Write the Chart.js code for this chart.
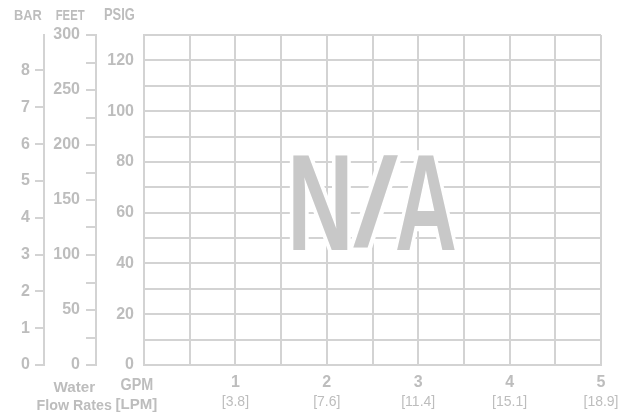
<!DOCTYPE html>
<html>
<head>
<meta charset="utf-8">
<script src="https://cdn.jsdelivr.net/npm/chart.js@4.4.1/dist/chart.umd.min.js"></script>
<style>
  html, body { margin: 0; padding: 0; background: #ffffff; }
  #wrap { width: 636px; height: 414px; }
</style>
</head>
<body>
<div id="wrap"><canvas id="c" width="636" height="414"></canvas></div>
<script>
// ---- data ----
const gpmLabels = ['1', '2', '3', '4', '5'];               // flow rate ticks, GPM
const lpmLabels = ['[3.8]', '[7.6]', '[11.4]', '[15.1]', '[18.9]']; // same ticks, LPM
const flowPoints = [];                                        // no curve: "N/A"
const psigRange = [0, 130];
const feetRange = [0, 300];
const barRange = [0, 130 / 14.5038];
const axisHeaders = ['BAR', 'FEET', 'PSIG'];
const noDataGlyphs = ['N', '/', 'A'];

// ---- styling ----
const TXT = '#bdbdbd';
const GRID = '#d3d3d3';
const FAM = '"Liberation Sans", Arial, sans-serif';

// draw text so that its ink box fills [x0,x1] x [y0,y1]
function fitText(ctx, text, font, x0, x1, y0, y1, mode, extra) {
  ctx.save();
  ctx.font = font;
  ctx.textAlign = 'left';
  ctx.textBaseline = 'alphabetic';
  const m = ctx.measureText(text);
  const bw = m.actualBoundingBoxLeft + m.actualBoundingBoxRight;
  const bh = m.actualBoundingBoxAscent + m.actualBoundingBoxDescent;
  ctx.translate(x0, y0);
  ctx.scale((x1 - x0) / bw, (y1 - y0) / bh);
  const ox = m.actualBoundingBoxLeft, oy = m.actualBoundingBoxAscent;
  if (mode === 'halo') {
    ctx.lineJoin = 'miter';
    ctx.strokeStyle = '#ffffff';
    ctx.lineWidth = extra;
    ctx.strokeText(text, ox, oy);
  } else {
    ctx.fillText(text, ox, oy);
  }
  ctx.restore();
}

// slanted glyph: bottom-left ink corner at (x0, yb), ink height h,
// horizontal stroke thickness ~t, total ink width w
function slantText(ctx, text, font, x0, yb, h, t, w, mode, extra) {
  ctx.save();
  ctx.font = font;
  ctx.textAlign = 'left';
  ctx.textBaseline = 'alphabetic';
  const m = ctx.measureText(text);
  const bw = m.actualBoundingBoxLeft + m.actualBoundingBoxRight;
  const bh = m.actualBoundingBoxAscent + m.actualBoundingBoxDescent;
  const nativeT = 0.46 * bw;
  const sx = t / nativeT, sy = h / bh;
  const k = (w - bw * sx) / h;
  ctx.translate(x0, yb);
  ctx.transform(1, 0, -k, 1, 0, 0);
  ctx.scale(sx, sy);
  const ox = m.actualBoundingBoxLeft, oy = -m.actualBoundingBoxDescent;
  if (mode === 'halo') {
    ctx.lineJoin = 'miter';
    ctx.strokeStyle = '#ffffff';
    ctx.lineWidth = extra;
    ctx.strokeText(text, ox, oy);
  } else {
    ctx.fillText(text, ox, oy);
  }
  ctx.restore();
}

const overlay = {
  id: 'overlay',
  afterDatasetsDraw(chart) {
    const ctx = chart.ctx;
    const big = 'bold 130px ' + FAM;
    const drawAll = (mode) => {
      fitText(ctx, noDataGlyphs[0], big, 293, 348, 155, 250, mode, 10);
      slantText(ctx, noDataGlyphs[1], big, 353, 247.5, 92.5, 14.5, 45, mode, 10);
      fitText(ctx, noDataGlyphs[2], big, 397, 455, 155, 250, mode, 10);
    };
    ctx.save();
    drawAll('halo');
    ctx.fillStyle = '#c8c8c8';
    drawAll('fill');
    ctx.restore();
  },
  afterDraw(chart) {
    const ctx = chart.ctx;
    ctx.save();
    ctx.fillStyle = TXT;
    const hf = 'bold 14px ' + FAM;
    fitText(ctx, axisHeaders[0], hf, 14, 41.7, 9.3, 20);
    fitText(ctx, axisHeaders[1], hf, 55.7, 85, 9.3, 20);
    fitText(ctx, axisHeaders[2], hf, 104, 135, 9.1, 20.3);
    const lf = 'bold 16px ' + FAM;
    fitText(ctx, 'Water', lf, 53.5, 95, 380, 391.5);
    fitText(ctx, 'GPM', lf, 120.5, 153, 378.5, 390.3);
    fitText(ctx, 'Flow Rates', lf, 37.5, 112, 398.3, 409.5);
    fitText(ctx, '[LPM]', lf, 115.5, 157, 397, 411.5);
    ctx.restore();
  }
};

const fixedSize = (w, h) => (scale) => {
  if (w !== null) scale.width = w;
  if (h !== null) scale.height = h;
};

new Chart(document.getElementById('c'), {
  type: 'scatter',
  data: {
    datasets: [{
      data: flowPoints,
      xAxisID: 'x',
      yAxisID: 'psig',
      showLine: true,
      borderColor: '#888',
      pointRadius: 0
    }]
  },
  options: {
    responsive: false,
    animation: false,
    devicePixelRatio: 1,
    layout: { padding: { left: 0, right: 35, top: 35, bottom: 0 } },
    plugins: { legend: { display: false }, tooltip: { enabled: false } },
    scales: {
      x: {
        type: 'linear', position: 'bottom', weight: 0,
        min: 0, max: 5,
        afterFit: fixedSize(null, 27),
        grid: { color: GRID, lineWidth: 2, drawTicks: false },
        border: { display: true, color: GRID, width: 2 },
        ticks: {
          stepSize: 0.5, autoSkip: false, maxRotation: 0, padding: 8,
          color: TXT, font: { family: FAM, size: 16, weight: 'bold' },
          callback: (v) => (Number.isInteger(v) && v > 0) ? gpmLabels[v - 1] : ''
        }
      },
      x2: {
        type: 'linear', position: 'bottom', weight: 1,
        min: 0, max: 5,
        afterFit: fixedSize(null, 22),
        grid: { display: false, drawTicks: false },
        border: { display: false },
        ticks: {
          stepSize: 0.5, autoSkip: false, maxRotation: 0, padding: 2,
          color: TXT, font: { family: FAM, size: 14, weight: 'normal' },
          callback: (v) => (Number.isInteger(v) && v > 0) ? lpmLabels[v - 1] : ''
        }
      },
      psig: {
        type: 'linear', position: 'left', weight: 0,
        min: psigRange[0], max: psigRange[1],
        afterFit: fixedSize(48, null),
        grid: { color: GRID, lineWidth: 2, drawTicks: false },
        border: { display: true, color: GRID, width: 2 },
        ticks: {
          stepSize: 10, autoSkip: false, padding: 10,
          color: TXT, font: { family: FAM, size: 16, weight: 'bold' },
          callback: (v) => (v % 20 === 0) ? String(v) : ''
        }
      },
      feet: {
        type: 'linear', position: 'left', weight: 1,
        min: feetRange[0], max: feetRange[1],
        afterFit: fixedSize(52, null),
        grid: { color: GRID, lineWidth: 2, drawOnChartArea: false, drawTicks: true, tickLength: 10 },
        border: { display: true, color: GRID, width: 2 },
        ticks: {
          stepSize: 25, autoSkip: false, padding: 6,
          color: TXT, font: { family: FAM, size: 16, weight: 'bold' },
          callback: (v) => (v % 50 === 0) ? String(v) : ''
        }
      },
      bar: {
        type: 'linear', position: 'left', weight: 2,
        min: barRange[0], max: barRange[1],
        afterFit: fixedSize(44, null),
        grid: { color: GRID, lineWidth: 2, drawOnChartArea: false, drawTicks: true, tickLength: 9 },
        border: { display: true, color: GRID, width: 2 },
        ticks: {
          stepSize: 1, autoSkip: false, includeBounds: false, padding: 5,
          color: TXT, font: { family: FAM, size: 16, weight: 'bold' },
          callback: (v) => String(v)
        }
      }
    }
  },
  plugins: [overlay]
});
</script>
</body>
</html>
